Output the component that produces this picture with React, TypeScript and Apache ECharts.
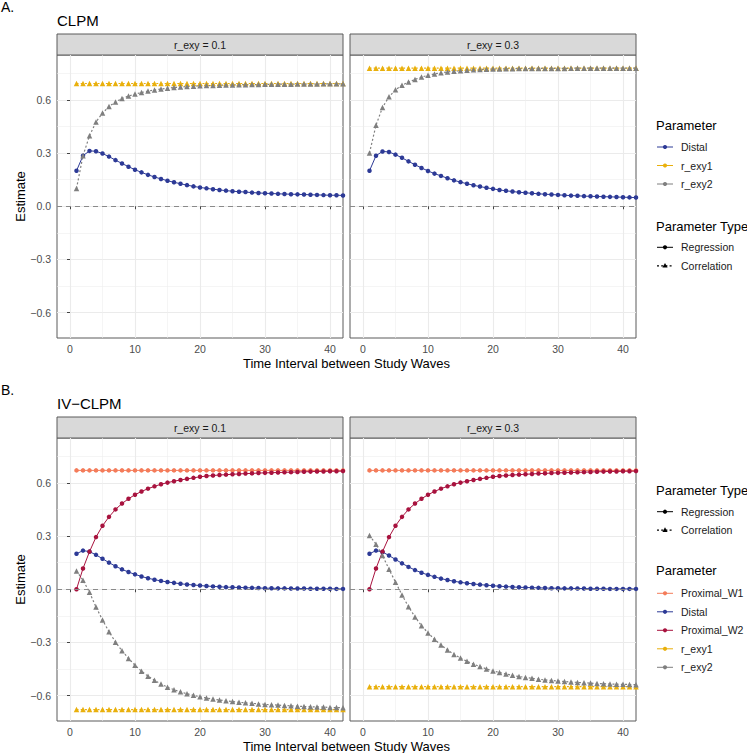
import React, { useEffect, useRef } from "react";
import * as echarts from "echarts";

const FONT = '"Liberation Sans", Arial, Helvetica, sans-serif';

const WAVES = [1, 2, 3, 4, 5, 6, 7, 8, 9, 10, 11, 12, 13, 14, 15, 16, 17, 18, 19, 20, 21, 22, 23, 24, 25, 26, 27, 28, 29, 30, 31, 32, 33, 34, 35, 36, 37, 38, 39, 40, 41, 42];
const X_TICKS = [0, 10, 20, 30, 40];
const X_MINOR = [5, 15, 25, 35];
const Y_TICKS = [-0.6, -0.3, 0, 0.3, 0.6];
const Y_MINOR = [-0.45, -0.15, 0.15, 0.45, 0.75];
const FACETS = ["r_exy = 0.1", "r_exy = 0.3"];

// Panel A (CLPM)
const A1_DISTAL = [0.200, 0.285, 0.312, 0.310, 0.297, 0.280, 0.260, 0.241, 0.223, 0.206, 0.191, 0.177, 0.165, 0.154, 0.144, 0.135, 0.127, 0.119, 0.112, 0.106, 0.101, 0.096, 0.092, 0.088, 0.085, 0.082, 0.080, 0.077, 0.075, 0.073, 0.072, 0.070, 0.069, 0.068, 0.067, 0.066, 0.065, 0.064, 0.063, 0.062, 0.062, 0.061];
const A1_REXY1 = [0.692, 0.692, 0.692, 0.692, 0.692, 0.692, 0.692, 0.692, 0.692, 0.692, 0.692, 0.692, 0.692, 0.692, 0.692, 0.692, 0.692, 0.692, 0.692, 0.692, 0.692, 0.692, 0.692, 0.692, 0.692, 0.692, 0.692, 0.692, 0.692, 0.692, 0.692, 0.692, 0.692, 0.692, 0.692, 0.692, 0.692, 0.692, 0.692, 0.692, 0.692, 0.692];
const A1_REXY2 = [0.100, 0.285, 0.397, 0.475, 0.525, 0.562, 0.588, 0.607, 0.621, 0.632, 0.641, 0.649, 0.655, 0.661, 0.665, 0.669, 0.672, 0.675, 0.677, 0.679, 0.680, 0.681, 0.682, 0.683, 0.684, 0.685, 0.685, 0.686, 0.686, 0.687, 0.687, 0.688, 0.688, 0.688, 0.689, 0.689, 0.689, 0.689, 0.690, 0.690, 0.690, 0.690];
const A2_DISTAL = [0.200, 0.285, 0.309, 0.306, 0.291, 0.273, 0.253, 0.234, 0.216, 0.199, 0.184, 0.171, 0.158, 0.146, 0.136, 0.127, 0.118, 0.111, 0.104, 0.098, 0.092, 0.087, 0.083, 0.079, 0.076, 0.073, 0.070, 0.068, 0.066, 0.064, 0.062, 0.060, 0.059, 0.057, 0.056, 0.055, 0.054, 0.053, 0.052, 0.051, 0.050, 0.049];
const A2_REXY1 = [0.778, 0.778, 0.778, 0.778, 0.778, 0.778, 0.778, 0.778, 0.778, 0.778, 0.778, 0.778, 0.778, 0.778, 0.778, 0.778, 0.778, 0.778, 0.778, 0.778, 0.778, 0.778, 0.778, 0.778, 0.778, 0.778, 0.778, 0.778, 0.778, 0.778, 0.778, 0.778, 0.778, 0.778, 0.778, 0.778, 0.778, 0.778, 0.778, 0.778, 0.778, 0.778];
const A2_REXY2 = [0.300, 0.457, 0.557, 0.617, 0.656, 0.682, 0.700, 0.715, 0.728, 0.738, 0.746, 0.752, 0.757, 0.761, 0.764, 0.767, 0.769, 0.771, 0.772, 0.773, 0.774, 0.775, 0.775, 0.776, 0.776, 0.776, 0.777, 0.777, 0.777, 0.777, 0.777, 0.778, 0.778, 0.778, 0.778, 0.778, 0.778, 0.778, 0.778, 0.778, 0.778, 0.778];

// Panel B (IV-CLPM)
const B_PROX_W1 = [0.670, 0.670, 0.670, 0.670, 0.670, 0.670, 0.670, 0.670, 0.670, 0.670, 0.670, 0.670, 0.670, 0.670, 0.670, 0.670, 0.670, 0.670, 0.670, 0.670, 0.670, 0.670, 0.670, 0.670, 0.670, 0.670, 0.670, 0.670, 0.670, 0.670, 0.670, 0.670, 0.670, 0.670, 0.670, 0.670, 0.670, 0.670, 0.670, 0.670, 0.670, 0.670];
const B_PROX_W2 = [0.000, 0.117, 0.212, 0.294, 0.358, 0.408, 0.450, 0.483, 0.510, 0.533, 0.551, 0.567, 0.580, 0.592, 0.601, 0.609, 0.616, 0.622, 0.628, 0.634, 0.638, 0.641, 0.644, 0.646, 0.648, 0.650, 0.652, 0.653, 0.655, 0.656, 0.657, 0.658, 0.659, 0.660, 0.661, 0.662, 0.663, 0.664, 0.664, 0.665, 0.665, 0.666];
const B1_DISTAL = [0.200, 0.218, 0.212, 0.194, 0.172, 0.150, 0.130, 0.112, 0.097, 0.084, 0.072, 0.062, 0.054, 0.047, 0.041, 0.036, 0.031, 0.027, 0.024, 0.021, 0.018, 0.016, 0.014, 0.012, 0.011, 0.010, 0.009, 0.008, 0.007, 0.006, 0.006, 0.005, 0.005, 0.004, 0.004, 0.004, 0.003, 0.003, 0.003, 0.003, 0.002, 0.002];
const B1_REXY1 = [-0.678, -0.678, -0.678, -0.678, -0.678, -0.678, -0.678, -0.678, -0.678, -0.678, -0.678, -0.678, -0.678, -0.678, -0.678, -0.678, -0.678, -0.678, -0.678, -0.678, -0.678, -0.678, -0.678, -0.678, -0.678, -0.678, -0.678, -0.678, -0.678, -0.678, -0.678, -0.678, -0.678, -0.678, -0.678, -0.678, -0.678, -0.678, -0.678, -0.678, -0.678, -0.678];
const B1_REXY2 = [0.103, 0.051, -0.017, -0.100, -0.173, -0.239, -0.298, -0.347, -0.390, -0.428, -0.462, -0.490, -0.513, -0.534, -0.552, -0.566, -0.578, -0.589, -0.598, -0.606, -0.613, -0.619, -0.624, -0.629, -0.633, -0.637, -0.640, -0.643, -0.646, -0.649, -0.651, -0.653, -0.655, -0.657, -0.659, -0.661, -0.662, -0.663, -0.664, -0.666, -0.667, -0.668];
const B2_DISTAL = [0.200, 0.218, 0.210, 0.190, 0.168, 0.146, 0.126, 0.108, 0.093, 0.081, 0.070, 0.060, 0.052, 0.045, 0.039, 0.034, 0.030, 0.026, 0.023, 0.020, 0.017, 0.015, 0.013, 0.011, 0.010, 0.009, 0.008, 0.007, 0.006, 0.006, 0.005, 0.005, 0.004, 0.004, 0.003, 0.003, 0.003, 0.002, 0.002, 0.002, 0.002, 0.002];
const B2_REXY1 = [-0.549, -0.549, -0.549, -0.549, -0.549, -0.549, -0.549, -0.549, -0.549, -0.549, -0.549, -0.549, -0.549, -0.549, -0.549, -0.549, -0.549, -0.549, -0.549, -0.549, -0.549, -0.549, -0.549, -0.549, -0.549, -0.549, -0.549, -0.549, -0.549, -0.549, -0.549, -0.549, -0.549, -0.549, -0.549, -0.549, -0.549, -0.549, -0.549, -0.549, -0.549, -0.549];
const B2_REXY2 = [0.303, 0.254, 0.190, 0.113, 0.040, -0.032, -0.098, -0.156, -0.205, -0.246, -0.282, -0.314, -0.342, -0.367, -0.388, -0.406, -0.422, -0.436, -0.449, -0.460, -0.469, -0.478, -0.485, -0.492, -0.497, -0.502, -0.507, -0.511, -0.514, -0.517, -0.520, -0.523, -0.525, -0.527, -0.529, -0.531, -0.532, -0.534, -0.535, -0.536, -0.537, -0.538];

const COLORS: Record<string, string> = {
  Proximal_W1: "#F47C5A",
  Distal: "#2D3A96",
  Proximal_W2: "#A8123E",
  r_exy1: "#E9B00C",
  r_exy2: "#7F7F7F",
};
const KIND: Record<string, string> = {
  Proximal_W1: "reg",
  Distal: "reg",
  Proximal_W2: "reg",
  r_exy1: "cor",
  r_exy2: "cor",
};

const PANEL_A = [
  { Distal: A1_DISTAL, r_exy1: A1_REXY1, r_exy2: A1_REXY2 },
  { Distal: A2_DISTAL, r_exy1: A2_REXY1, r_exy2: A2_REXY2 },
];
const PANEL_B = [
  { Proximal_W1: B_PROX_W1, Distal: B1_DISTAL, Proximal_W2: B_PROX_W2, r_exy1: B1_REXY1, r_exy2: B1_REXY2 },
  { Proximal_W1: B_PROX_W1, Distal: B2_DISTAL, Proximal_W2: B_PROX_W2, r_exy1: B2_REXY1, r_exy2: B2_REXY2 },
];

const X_MIN = -2;
const X_MAX = 42;
const Y_MIN = -0.7425;
const Y_MAX = 0.8525;

const PANEL_LEFTS = [57, 350];
const PANEL_W = 286;
const PANEL_H = 283;
const PANEL_TOPS = [55, 438];
const STRIP_H = 21;
const BORDER = "#5a5a5a";
const DOT_DASH = [2, 2.2];

function fmtY(v: number) {
  if (Math.abs(v) < 1e-9) return "0.0";
  return (v < 0 ? "\u2212" : "") + Math.abs(v).toFixed(1);
}

function buildOption() {
  const grid: any[] = [];
  const xAxis: any[] = [];
  const yAxis: any[] = [];
  const series: any[] = [];
  const graphic: any[] = [];

  const panels = [PANEL_A, PANEL_B];
  let g = 0;
  panels.forEach((panel, pi) => {
    panel.forEach((facet: any, fi) => {
      const left = PANEL_LEFTS[fi];
      const top = PANEL_TOPS[pi];
      grid.push({
        left,
        top,
        width: PANEL_W,
        height: PANEL_H,
        show: true,
        borderColor: BORDER,
        borderWidth: 1,
        backgroundColor: "#fff",
        containLabel: false,
      });
      xAxis.push({
        type: "value",
        gridIndex: g,
        min: X_MIN,
        max: X_MAX,
        axisLine: { show: false },
        axisTick: { show: true, customValues: X_TICKS, length: 3, lineStyle: { color: "#444", width: 1 } },
        axisLabel: {
          customValues: X_TICKS,
          color: "#4d4d4d",
          fontSize: 10.5,
          fontFamily: FONT,
          margin: 5,
        },
        splitLine: { show: true, lineStyle: { color: "#EBEBEB", width: 1.1 } },
      });
      xAxis.push({
        type: "value",
        gridIndex: g,
        min: X_MIN,
        max: X_MAX,
        position: "bottom",
        axisLine: { show: false },
        axisTick: { show: false, customValues: X_MINOR },
        axisLabel: { show: false, customValues: X_MINOR },
        splitLine: { show: true, lineStyle: { color: "#EFEFEF", width: 0.6 } },
      });
      yAxis.push({
        type: "value",
        gridIndex: g,
        min: Y_MIN,
        max: Y_MAX,
        axisLine: { show: false },
        axisTick: { show: fi === 0, customValues: Y_TICKS, length: 3, lineStyle: { color: "#444", width: 1 } },
        axisLabel: {
          show: fi === 0,
          customValues: Y_TICKS,
          color: "#4d4d4d",
          fontSize: 10.5,
          fontFamily: FONT,
          margin: 6,
          formatter: fmtY,
        },
        splitLine: { show: true, lineStyle: { color: "#EBEBEB", width: 1.1 } },
      });
      yAxis.push({
        type: "value",
        gridIndex: g,
        min: Y_MIN,
        max: Y_MAX,
        position: "left",
        axisLine: { show: false },
        axisTick: { show: false, customValues: Y_MINOR },
        axisLabel: { show: false, customValues: Y_MINOR },
        splitLine: { show: true, lineStyle: { color: "#EFEFEF", width: 0.6 } },
      });
      const xi = 2 * g;
      const yi = 2 * g;
      // zero reference line
      series.push({
        type: "line",
        xAxisIndex: xi,
        yAxisIndex: yi,
        data: [],
        silent: true,
        z: 2,
        markLine: {
          silent: true,
          symbol: ["none", "none"],
          label: { show: false },
          lineStyle: { color: "#8a8a8a", width: 1, type: [5, 4] },
          data: [{ yAxis: 0 }],
        },
      });
      Object.keys(facet).forEach((name) => {
        const vals: number[] = facet[name];
        const color = COLORS[name];
        const reg = KIND[name] === "reg";
        series.push({
          type: "line",
          name,
          xAxisIndex: xi,
          yAxisIndex: yi,
          data: WAVES.map((w, i) => [w, vals[i]]),
          symbol: reg ? "circle" : "triangle",
          symbolSize: reg ? 4.5 : 5.5,
          showSymbol: true,
          lineStyle: { color, width: reg ? 1 : 1.2, type: reg ? "solid" : DOT_DASH },
          itemStyle: { color, borderWidth: 0 },
          emphasis: { disabled: true },
          silent: true,
          clip: true,
          z: 3,
        });
      });
      // strip
      graphic.push({
        type: "rect",
        shape: { x: left, y: top - STRIP_H, width: PANEL_W, height: STRIP_H },
        style: { fill: "#D9D9D9", stroke: BORDER, lineWidth: 1 },
        silent: true,
      });
      graphic.push({
        type: "text",
        x: left + PANEL_W / 2,
        y: top - STRIP_H / 2,
        style: {
          text: FACETS[fi],
          fill: "#1a1a1a",
          fontSize: 10.5,
          fontFamily: FONT,
          align: "center",
          verticalAlign: "middle",
        },
        silent: true,
      });
      g++;
    });
  });

  const offB = PANEL_TOPS[1] - PANEL_TOPS[0];
  const titles = [
    { tag: "A.", title: "CLPM", dy: 0 },
    { tag: "B.", title: "IV\u2212CLPM", dy: offB },
  ];
  titles.forEach((t) => {
    graphic.push({
      type: "text",
      x: 1,
      y: 7 + t.dy,
      style: { text: t.tag, fill: "#000", fontSize: 14, fontFamily: FONT, align: "left", verticalAlign: "middle" },
      silent: true,
    });
    graphic.push({
      type: "text",
      x: 57,
      y: 20 + t.dy,
      style: { text: t.title, fill: "#000", fontSize: 15, fontFamily: FONT, align: "left", verticalAlign: "middle" },
      silent: true,
    });
    graphic.push({
      type: "text",
      x: 20.5,
      y: PANEL_TOPS[0] + PANEL_H / 2 + t.dy,
      rotation: Math.PI / 2,
      style: { text: "Estimate", fill: "#000", fontSize: 13, fontFamily: FONT, align: "center", verticalAlign: "middle" },
      silent: true,
    });
    graphic.push({
      type: "text",
      x: (PANEL_LEFTS[0] + PANEL_LEFTS[1] + PANEL_W) / 2,
      y: 363 + t.dy,
      style: {
        text: "Time Interval between Study Waves",
        fill: "#000",
        fontSize: 13,
        fontFamily: FONT,
        align: "center",
        verticalAlign: "middle",
      },
      silent: true,
    });
  });

  // legends
  const LX = 656;
  const KEY_X1 = 657;
  const KEY_X2 = 673;
  const KEY_C = 665;
  const LABEL_X = 681;
  const legendTitle = (text: string, y: number) =>
    graphic.push({
      type: "text",
      x: LX,
      y,
      style: { text, fill: "#000", fontSize: 13, fontFamily: FONT, align: "left", verticalAlign: "middle" },
      silent: true,
    });
  const legendItem = (text: string, y: number, color: string, dotted: boolean, tri: boolean) => {
    graphic.push({
      type: "line",
      shape: { x1: KEY_X1, y1: y, x2: KEY_X2, y2: y },
      style: { stroke: color, lineWidth: dotted ? 1.2 : 1, lineDash: dotted ? DOT_DASH : null },
      silent: true,
    });
    if (tri) {
      graphic.push({
        type: "polygon",
        shape: { points: [[KEY_C, y - 2.9], [KEY_C + 2.6, y + 1.7], [KEY_C - 2.6, y + 1.7]] },
        style: { fill: color },
        silent: true,
      });
    } else {
      graphic.push({ type: "circle", shape: { cx: KEY_C, cy: y, r: 2.1 }, style: { fill: color }, silent: true });
    }
    graphic.push({
      type: "text",
      x: LABEL_X,
      y,
      style: { text, fill: "#1a1a1a", fontSize: 10.5, fontFamily: FONT, align: "left", verticalAlign: "middle" },
      silent: true,
    });
  };

  const STEP = 18.5;
  // Panel A legend
  legendTitle("Parameter", 125);
  Object.keys(PANEL_A[0]).forEach((name, i) => legendItem(name, 147 + i * STEP, COLORS[name], false, false));
  legendTitle("Parameter Type", 226);
  legendItem("Regression", 247.3, "#000", false, false);
  legendItem("Correlation", 247.3 + STEP, "#000", true, true);

  // Panel B legend
  legendTitle("Parameter Type", 490);
  legendItem("Regression", 511.7, "#000", false, false);
  legendItem("Correlation", 511.7 + STEP, "#000", true, true);
  legendTitle("Parameter", 570.7);
  Object.keys(PANEL_B[0]).forEach((name, i) => legendItem(name, 593.3 + i * STEP, COLORS[name], false, false));

  return {
    animation: false,
    backgroundColor: "#fff",
    textStyle: { fontFamily: FONT },
    grid,
    xAxis,
    yAxis,
    series,
    graphic,
  };
}

export default function App() {
  const ref = useRef<HTMLDivElement>(null);
  useEffect(() => {
    if (!ref.current) return;
    const chart = echarts.init(ref.current, undefined, { renderer: "svg" });
    chart.setOption(buildOption() as any);
    return () => chart.dispose();
  }, []);
  return (
    <div
      ref={ref}
      style={{ position: "absolute", left: 0, top: 0, width: 747, height: 753, background: "#fff" }}
    />
  );
}
